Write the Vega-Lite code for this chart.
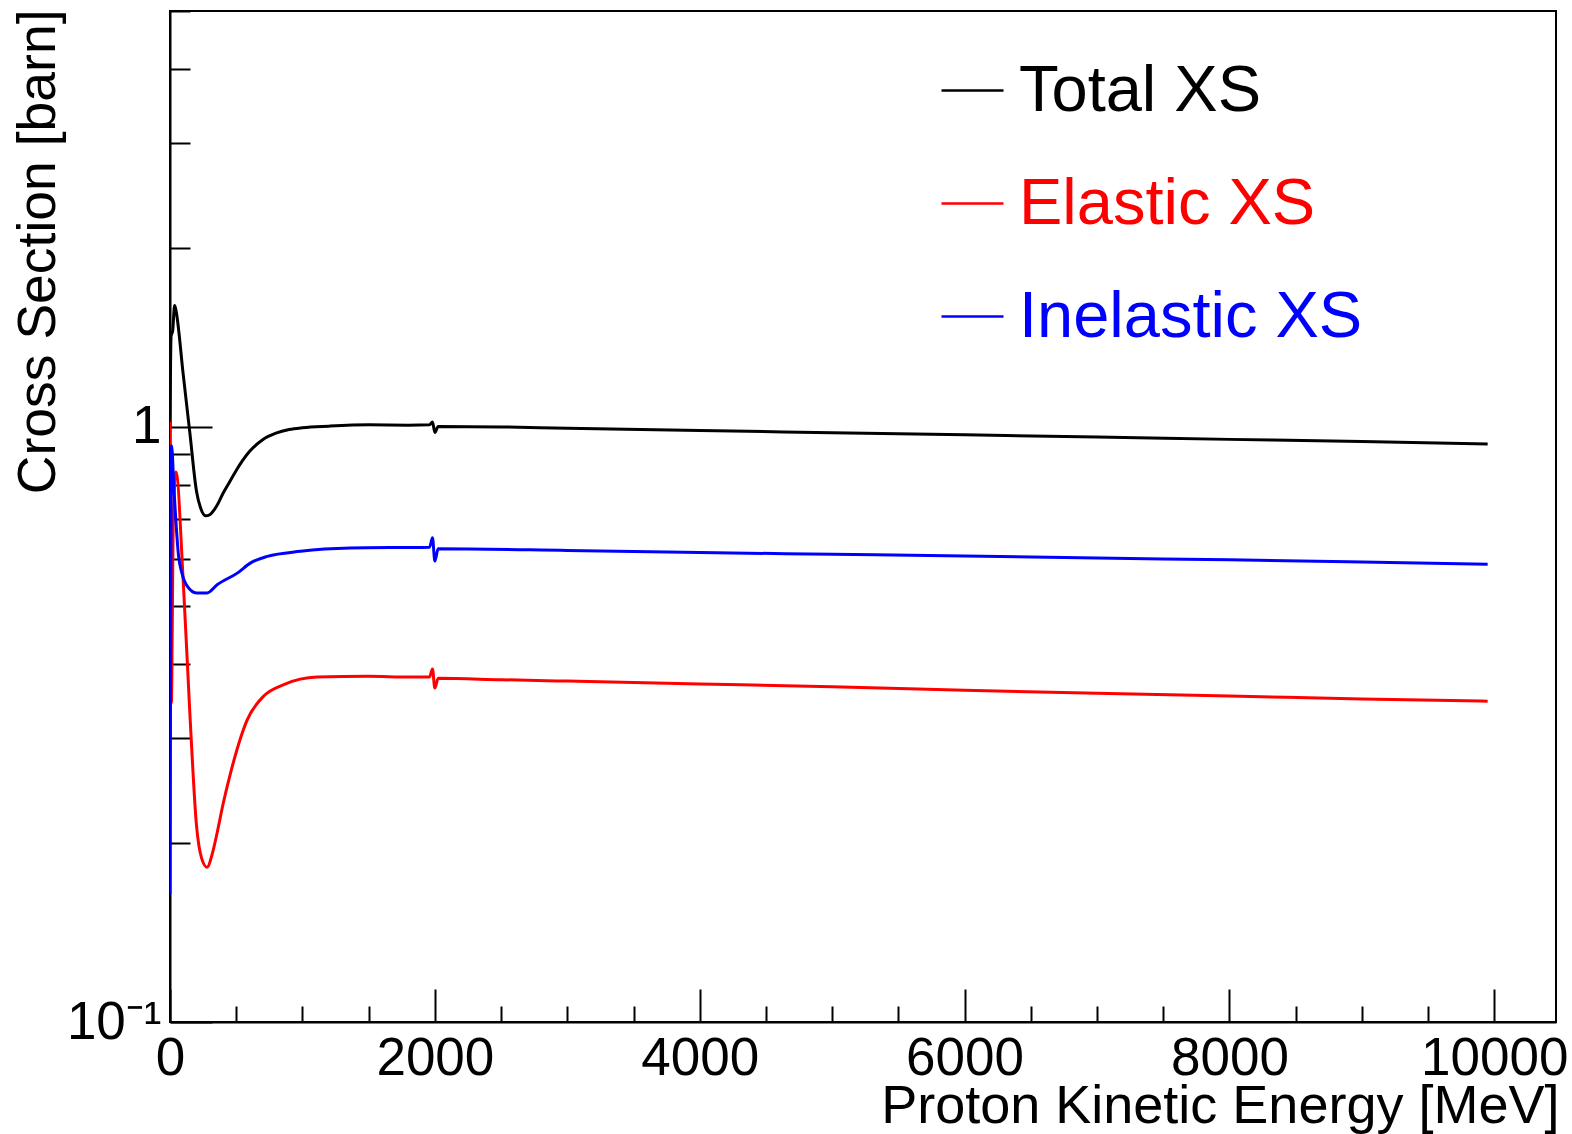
{
  "$schema": "https://vega.github.io/schema/vega-lite/v6.json",
  "width": 1386,
  "height": 1011,
  "autosize": {"type": "none"},
  "padding": {"left": 170, "top": 11, "right": 16, "bottom": 112},
  "background": "white",
  "config": {
    "font": "Liberation Sans",
    "view": {"stroke": "black", "strokeWidth": 2},
    "axis": {"grid": false, "domainColor": "black", "domainWidth": 2, "tickColor": "black", "tickWidth": 2, "labelColor": "black", "titleColor": "black", "labelFont": "Liberation Sans", "titleFont": "Liberation Sans", "labelFontWeight": "normal", "titleFontWeight": "normal"}
  },
  "data": {
    "values": [
      {"E": 0, "xs": 1.0, "s": "Total XS"},
      {"E": 8, "xs": 1.42, "s": "Total XS"},
      {"E": 20, "xs": 1.45, "s": "Total XS"},
      {"E": 35, "xs": 1.6, "s": "Total XS"},
      {"E": 45, "xs": 1.57, "s": "Total XS"},
      {"E": 100, "xs": 1.224, "s": "Total XS"},
      {"E": 150, "xs": 0.977, "s": "Total XS"},
      {"E": 200, "xs": 0.78, "s": "Total XS"},
      {"E": 230, "xs": 0.732, "s": "Total XS"},
      {"E": 270, "xs": 0.709, "s": "Total XS"},
      {"E": 300, "xs": 0.712, "s": "Total XS"},
      {"E": 350, "xs": 0.735, "s": "Total XS"},
      {"E": 400, "xs": 0.773, "s": "Total XS"},
      {"E": 450, "xs": 0.808, "s": "Total XS"},
      {"E": 500, "xs": 0.845, "s": "Total XS"},
      {"E": 600, "xs": 0.909, "s": "Total XS"},
      {"E": 700, "xs": 0.952, "s": "Total XS"},
      {"E": 800, "xs": 0.976, "s": "Total XS"},
      {"E": 900, "xs": 0.99, "s": "Total XS"},
      {"E": 1000, "xs": 0.997, "s": "Total XS"},
      {"E": 1200, "xs": 1.003, "s": "Total XS"},
      {"E": 1500, "xs": 1.008, "s": "Total XS"},
      {"E": 1800, "xs": 1.007, "s": "Total XS"},
      {"E": 1960, "xs": 1.008, "s": "Total XS"},
      {"E": 1982, "xs": 1.019, "s": "Total XS"},
      {"E": 2000, "xs": 0.979, "s": "Total XS"},
      {"E": 2025, "xs": 1.002, "s": "Total XS"},
      {"E": 2500, "xs": 1.0, "s": "Total XS"},
      {"E": 3000, "xs": 0.995, "s": "Total XS"},
      {"E": 4000, "xs": 0.986, "s": "Total XS"},
      {"E": 5000, "xs": 0.978, "s": "Total XS"},
      {"E": 6000, "xs": 0.97, "s": "Total XS"},
      {"E": 7000, "xs": 0.962, "s": "Total XS"},
      {"E": 8000, "xs": 0.953, "s": "Total XS"},
      {"E": 9000, "xs": 0.945, "s": "Total XS"},
      {"E": 9950, "xs": 0.936, "s": "Total XS"},

      {"E": 0, "xs": 1.02, "s": "Elastic XS"},
      {"E": 10, "xs": 0.344, "s": "Elastic XS"},
      {"E": 25, "xs": 0.7, "s": "Elastic XS"},
      {"E": 45, "xs": 0.84, "s": "Elastic XS"},
      {"E": 100, "xs": 0.55, "s": "Elastic XS"},
      {"E": 150, "xs": 0.33, "s": "Elastic XS"},
      {"E": 200, "xs": 0.214, "s": "Elastic XS"},
      {"E": 240, "xs": 0.188, "s": "Elastic XS"},
      {"E": 280, "xs": 0.182, "s": "Elastic XS"},
      {"E": 320, "xs": 0.192, "s": "Elastic XS"},
      {"E": 356, "xs": 0.208, "s": "Elastic XS"},
      {"E": 400, "xs": 0.232, "s": "Elastic XS"},
      {"E": 457, "xs": 0.262, "s": "Elastic XS"},
      {"E": 583, "xs": 0.322, "s": "Elastic XS"},
      {"E": 708, "xs": 0.353, "s": "Elastic XS"},
      {"E": 859, "xs": 0.369, "s": "Elastic XS"},
      {"E": 1111, "xs": 0.38, "s": "Elastic XS"},
      {"E": 1500, "xs": 0.381, "s": "Elastic XS"},
      {"E": 1800, "xs": 0.38, "s": "Elastic XS"},
      {"E": 1960, "xs": 0.38, "s": "Elastic XS"},
      {"E": 1982, "xs": 0.392, "s": "Elastic XS"},
      {"E": 2000, "xs": 0.364, "s": "Elastic XS"},
      {"E": 2025, "xs": 0.378, "s": "Elastic XS"},
      {"E": 2500, "xs": 0.376, "s": "Elastic XS"},
      {"E": 3000, "xs": 0.374, "s": "Elastic XS"},
      {"E": 4000, "xs": 0.37, "s": "Elastic XS"},
      {"E": 5000, "xs": 0.366, "s": "Elastic XS"},
      {"E": 6000, "xs": 0.361, "s": "Elastic XS"},
      {"E": 7000, "xs": 0.357, "s": "Elastic XS"},
      {"E": 8000, "xs": 0.353, "s": "Elastic XS"},
      {"E": 9000, "xs": 0.349, "s": "Elastic XS"},
      {"E": 9950, "xs": 0.346, "s": "Elastic XS"},

      {"E": 0, "xs": 0.164, "s": "Inelastic XS"},
      {"E": 12, "xs": 0.93, "s": "Inelastic XS"},
      {"E": 30, "xs": 0.785, "s": "Inelastic XS"},
      {"E": 65, "xs": 0.606, "s": "Inelastic XS"},
      {"E": 90, "xs": 0.568, "s": "Inelastic XS"},
      {"E": 130, "xs": 0.54, "s": "Inelastic XS"},
      {"E": 200, "xs": 0.526, "s": "Inelastic XS"},
      {"E": 280, "xs": 0.526, "s": "Inelastic XS"},
      {"E": 356, "xs": 0.543, "s": "Inelastic XS"},
      {"E": 508, "xs": 0.568, "s": "Inelastic XS"},
      {"E": 609, "xs": 0.591, "s": "Inelastic XS"},
      {"E": 735, "xs": 0.606, "s": "Inelastic XS"},
      {"E": 985, "xs": 0.618, "s": "Inelastic XS"},
      {"E": 1362, "xs": 0.626, "s": "Inelastic XS"},
      {"E": 1960, "xs": 0.628, "s": "Inelastic XS"},
      {"E": 1982, "xs": 0.651, "s": "Inelastic XS"},
      {"E": 2000, "xs": 0.595, "s": "Inelastic XS"},
      {"E": 2025, "xs": 0.624, "s": "Inelastic XS"},
      {"E": 3000, "xs": 0.62, "s": "Inelastic XS"},
      {"E": 4000, "xs": 0.615, "s": "Inelastic XS"},
      {"E": 5000, "xs": 0.611, "s": "Inelastic XS"},
      {"E": 6000, "xs": 0.607, "s": "Inelastic XS"},
      {"E": 7000, "xs": 0.602, "s": "Inelastic XS"},
      {"E": 8000, "xs": 0.598, "s": "Inelastic XS"},
      {"E": 9000, "xs": 0.593, "s": "Inelastic XS"},
      {"E": 9950, "xs": 0.588, "s": "Inelastic XS"}
    ]
  },
  "mark": {"type": "line", "strokeWidth": 3, "interpolate": "monotone", "clip": true},
  "encoding": {
    "x": {
      "field": "E", "type": "quantitative",
      "scale": {"domain": [0, 10466], "nice": false, "zero": false},
      "axis": {
        "values": [0, 500, 1000, 1500, 2000, 2500, 3000, 3500, 4000, 4500, 5000, 5500, 6000, 6500, 7000, 7500, 8000, 8500, 9000, 9500, 10000],
        "format": "d",
        "labelExpr": "datum.value % 2000 === 0 ? datum.label : ''",
        "tickSize": {"condition": {"test": "datum.value % 2000 === 0", "value": -33}, "value": -16},
        "labelPadding": 43,
        "labelFontSize": 53,
        "labelFlush": false,
        "labelOverlap": false,
        "labelBaseline": "top",
        "title": "Proton Kinetic Energy [MeV]",
        "titleFontSize": 54,
        "titleAnchor": "end",
        "titleAlign": "right",
        "titleBaseline": "alphabetic",
        "titleX": 1389,
        "titleY": 100
      }
    },
    "y": {
      "field": "xs", "type": "quantitative",
      "scale": {"type": "log", "domain": [0.1, 5.0], "nice": false, "zero": false},
      "axis": {
        "values": [0.1, 0.2, 0.3, 0.4, 0.5, 0.6, 0.7, 0.8, 0.9, 1, 2, 3, 4, 5],
        "labelExpr": "datum.value === 1 ? '1' : (datum.value === 0.1 ? '10⁻¹' : '')",
        "tickSize": {"condition": {"test": "datum.value === 1 || datum.value === 0.1", "value": -42}, "value": -20},
        "labelPadding": 51,
        "labelFontSize": 53,
        "labelFlush": false,
        "labelOverlap": false,
        "title": "Cross Section [barn]",
        "titleFontSize": 53.5,
        "titleAngle": -90,
        "titleAlign": "right",
        "titleBaseline": "alphabetic",
        "titleX": -116,
        "titleY": -2
      }
    },
    "color": {
      "field": "s", "type": "nominal",
      "scale": {"domain": ["Total XS", "Elastic XS", "Inelastic XS"], "range": ["black", "red", "blue"]},
      "legend": {
        "title": null,
        "orient": "none",
        "legendX": 770,
        "legendY": 47,
        "padding": 0,
        "symbolType": "stroke",
        "symbolSize": 3844,
        "symbolStrokeWidth": 2.5,
        "labelFontSize": 65,
        "labelFont": "Liberation Sans",
        "labelOffset": 14,
        "rowPadding": 47,
        "labelLimit": 0,
        "encode": {"labels": {"update": {"fill": {"scale": "color", "field": "value"}}}}
      }
    }
  }
}
